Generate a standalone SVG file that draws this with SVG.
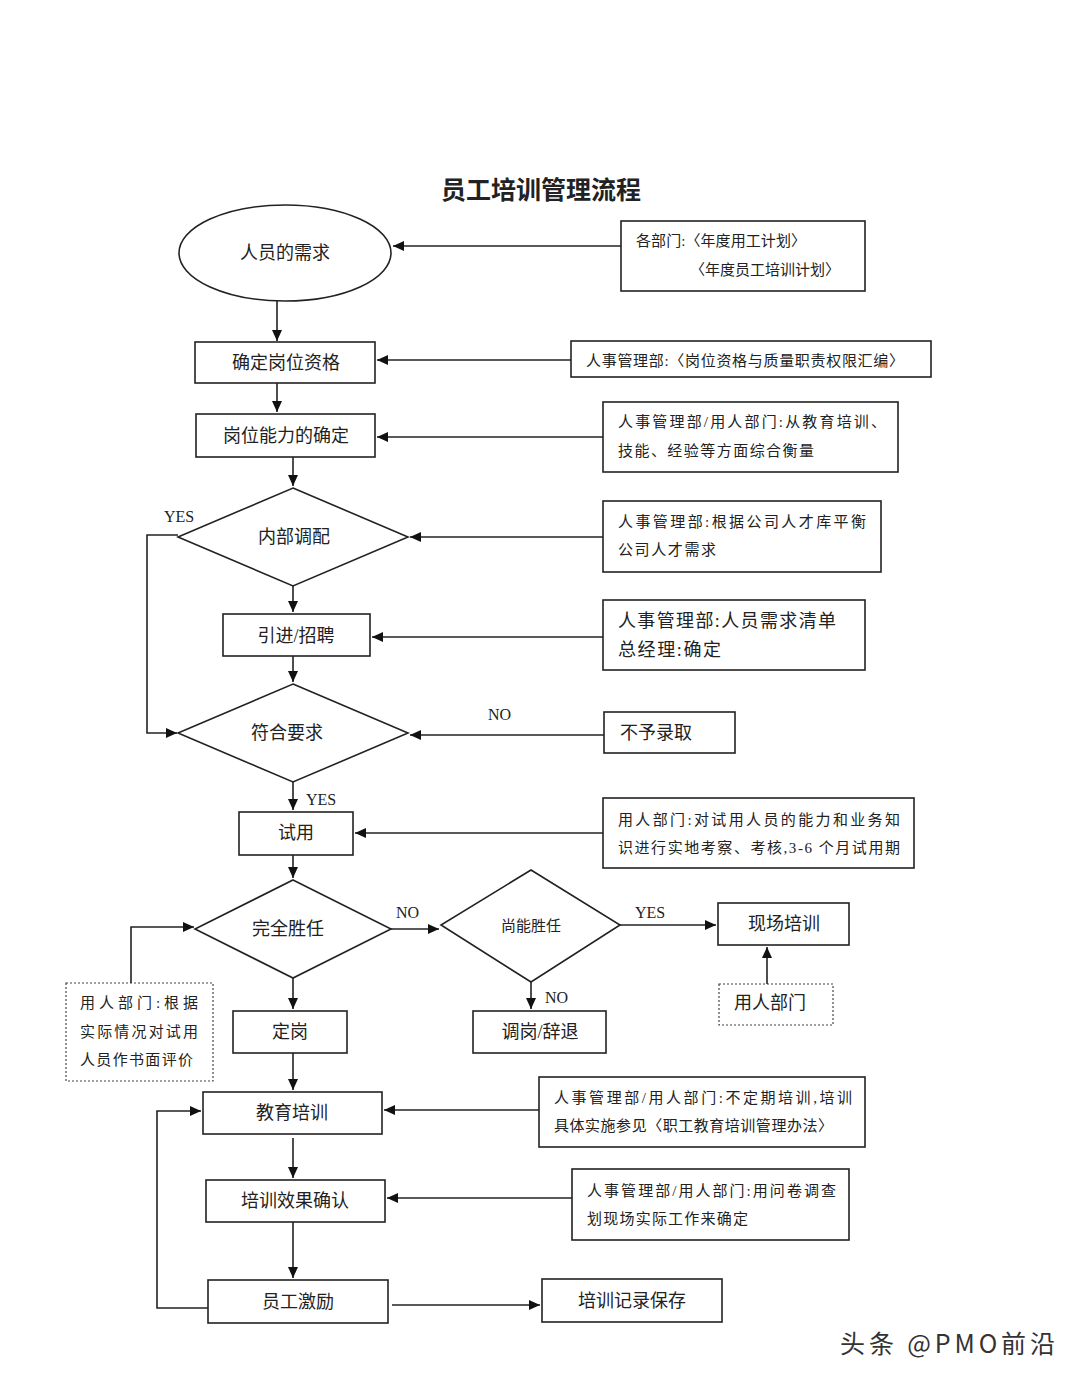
<svg xmlns="http://www.w3.org/2000/svg" width="1080" height="1381" viewBox="0 0 1080 1381">
<defs>
<marker id="ah" markerUnits="userSpaceOnUse" markerWidth="12" markerHeight="10" refX="11" refY="5" orient="auto">
<path d="M0,0 L11,5 L0,10 z" fill="#111"/>
</marker>
<style>
.n{fill:#fff;stroke:#222;stroke-width:1.6}
.d{fill:#fff;stroke:#444;stroke-width:1.2;stroke-dasharray:2 2}
.t{font-family:"Liberation Serif","Noto Sans CJK SC",serif;font-size:18px;fill:#222;text-anchor:middle;dominant-baseline:central}
.a{font-family:"Liberation Serif","Noto Sans CJK SC",serif;font-size:15px;fill:#222;dominant-baseline:central}
.l{font-family:"Liberation Serif","Noto Sans CJK SC",serif;font-size:16px;fill:#222;dominant-baseline:central}
.c{fill:none;stroke:#222;stroke-width:1.6}
</style>
</defs>
<rect width="1080" height="1381" fill="#fff"/>
<text x="541" y="190" class="t" style="font-size:25px;font-weight:bold" textLength="200" lengthAdjust="spacing">员工培训管理流程</text>

<g id="n_need"><ellipse class="n" cx="285" cy="253" rx="106" ry="48"/><text class="t" x="285" y="253">人员的需求</text></g>
<g id="a_plan"><rect class="n" x="621" y="221" width="244" height="70"/><text class="a" x="636" y="241" textLength="170" lengthAdjust="spacing">各部门:〈年度用工计划〉</text><text class="a" x="690" y="270" textLength="150" lengthAdjust="spacing">〈年度员工培训计划〉</text></g>
<g id="n_qual"><rect class="n" x="195" y="342" width="180" height="41"/><text class="t" x="286" y="363">确定岗位资格</text></g>
<g id="a_qual"><rect class="n" x="571" y="341" width="360" height="36"/><text class="a" x="586" y="361" textLength="318" lengthAdjust="spacing">人事管理部:〈岗位资格与质量职责权限汇编〉</text></g>
<g id="n_abil"><rect class="n" x="196" y="414" width="179" height="43"/><text class="t" x="286" y="436">岗位能力的确定</text></g>
<g id="a_abil"><rect class="n" x="603" y="402" width="295" height="70"/><text class="a" x="618" y="422" textLength="268" lengthAdjust="spacing">人事管理部/用人部门:从教育培训、</text><text class="a" x="618" y="451" textLength="196" lengthAdjust="spacing">技能、经验等方面综合衡量</text></g>
<g id="n_int"><polygon class="n" points="293,488 408,537 293,586 178,537"/><text class="t" x="294" y="537">内部调配</text></g>
<g id="a_int"><rect class="n" x="603" y="501" width="278" height="71"/><text class="a" x="618" y="522" textLength="248" lengthAdjust="spacing">人事管理部:根据公司人才库平衡</text><text class="a" x="618" y="550" textLength="98" lengthAdjust="spacing">公司人才需求</text></g>
<g id="n_rec"><rect class="n" x="223" y="614" width="147" height="42"/><text class="t" x="296" y="636">引进/招聘</text></g>
<g id="a_rec"><rect class="n" x="603" y="600" width="262" height="70"/><text class="a" x="618" y="621" style="font-size:18px" textLength="218" lengthAdjust="spacing">人事管理部:人员需求清单</text><text class="a" x="618" y="650" style="font-size:18px" textLength="103" lengthAdjust="spacing">总经理:确定</text></g>
<g id="n_fit"><polygon class="n" points="293,684 408,733 293,782 178,733"/><text class="t" x="287" y="733">符合要求</text></g>
<g id="n_rej"><rect class="n" x="604" y="712" width="131" height="41"/><text class="t" x="656" y="733">不予录取</text></g>
<g id="n_try"><rect class="n" x="239" y="812" width="114" height="43"/><text class="t" x="296" y="833">试用</text></g>
<g id="a_try"><rect class="n" x="603" y="798" width="311" height="70"/><text class="a" x="618" y="820" textLength="282" lengthAdjust="spacing">用人部门:对试用人员的能力和业务知</text><text class="a" x="618" y="848" textLength="282" lengthAdjust="spacing">识进行实地考察、考核,3-6 个月试用期</text></g>
<g id="n_full"><polygon class="n" points="293,880 391,929 293,978 195,929"/><text class="t" x="288" y="929">完全胜任</text></g>
<g id="n_part"><polygon class="n" points="531,870 620,925 531,982 441,925"/><text class="t" x="531" y="926" style="font-size:15px">尚能胜任</text></g>
<g id="n_site"><rect class="n" x="718" y="903" width="131" height="42"/><text class="t" x="784" y="924">现场培训</text></g>
<g id="a_site"><rect class="d" x="719" y="984" width="114" height="41"/><text class="t" x="770" y="1003">用人部门</text></g>
<g id="n_move"><rect class="n" x="473" y="1011" width="133" height="42"/><text class="t" x="540" y="1032">调岗/辞退</text></g>
<g id="n_fix"><rect class="n" x="233" y="1011" width="114" height="42"/><text class="t" x="290" y="1032">定岗</text></g>
<g id="a_eval"><rect class="d" x="66" y="983" width="147" height="98"/><text class="a" x="80" y="1003" textLength="118" lengthAdjust="spacing">用人部门:根据</text><text class="a" x="80" y="1032" textLength="118" lengthAdjust="spacing">实际情况对试用</text><text class="a" x="80" y="1060" textLength="113" lengthAdjust="spacing">人员作书面评价</text></g>
<g id="n_edu"><rect class="n" x="203" y="1092" width="179" height="42"/><text class="t" x="292" y="1113">教育培训</text></g>
<g id="a_edu"><rect class="n" x="539" y="1077" width="326" height="70"/><text class="a" x="554" y="1098" textLength="298" lengthAdjust="spacing">人事管理部/用人部门:不定期培训,培训</text><text class="a" x="554" y="1126" textLength="279" lengthAdjust="spacing">具体实施参见〈职工教育培训管理办法〉</text></g>
<g id="n_eff"><rect class="n" x="206" y="1180" width="179" height="42"/><text class="t" x="295" y="1201">培训效果确认</text></g>
<g id="a_eff"><rect class="n" x="572" y="1169" width="277" height="71"/><text class="a" x="587" y="1191" textLength="249" lengthAdjust="spacing">人事管理部/用人部门:用问卷调查</text><text class="a" x="587" y="1219" textLength="161" lengthAdjust="spacing">划现场实际工作来确定</text></g>
<g id="n_inc"><rect class="n" x="208" y="1280" width="180" height="43"/><text class="t" x="298" y="1302">员工激励</text></g>
<g id="n_save"><rect class="n" x="542" y="1279" width="180" height="43"/><text class="t" x="632" y="1301">培训记录保存</text></g>

<g id="connectors" marker-end="url(#ah)">
<path class="c" d="M621,246 H393"/>
<path class="c" d="M277,301 V341"/>
<path class="c" d="M571,360 H377"/>
<path class="c" d="M277,383 V412"/>
<path class="c" d="M603,437 H377"/>
<path class="c" d="M293,457 V486"/>
<path class="c" d="M603,537 H410"/>
<path class="c" d="M178,535 H147 V733 H177"/>
<path class="c" d="M293,586 V612"/>
<path class="c" d="M603,637 H372"/>
<path class="c" d="M293,656 V682"/>
<path class="c" d="M604,735 H410"/>
<path class="c" d="M293,782 V810"/>
<path class="c" d="M603,833 H355"/>
<path class="c" d="M293,855 V878"/>
<path class="c" d="M391,929 H439"/>
<path class="c" d="M620,925 H716"/>
<path class="c" d="M767,984 V947"/>
<path class="c" d="M531,982 V1009"/>
<path class="c" d="M293,978 V1009"/>
<path class="c" d="M131,983 V927 H194"/>
<path class="c" d="M293,1053 V1090"/>
<path class="c" d="M539,1110 H384"/>
<path class="c" d="M293,1138 V1178"/>
<path class="c" d="M572,1198 H387"/>
<path class="c" d="M293,1222 V1278"/>
<path class="c" d="M208,1308 H157 V1111 H201"/>
<path class="c" d="M392,1305 H540"/>
</g>
<g id="labels">
<text class="l" x="164" y="516">YES</text>
<text class="l" x="488" y="714">NO</text>
<text class="l" x="306" y="799">YES</text>
<text class="l" x="396" y="912">NO</text>
<text class="l" x="635" y="912">YES</text>
<text class="l" x="545" y="997">NO</text>
</g>
<text x="840" y="1342" style="font-family:'Noto Sans CJK SC',sans-serif;font-size:25px;fill:#333;dominant-baseline:central" textLength="215" lengthAdjust="spacing">头条 @PMO前沿</text>
</svg>
